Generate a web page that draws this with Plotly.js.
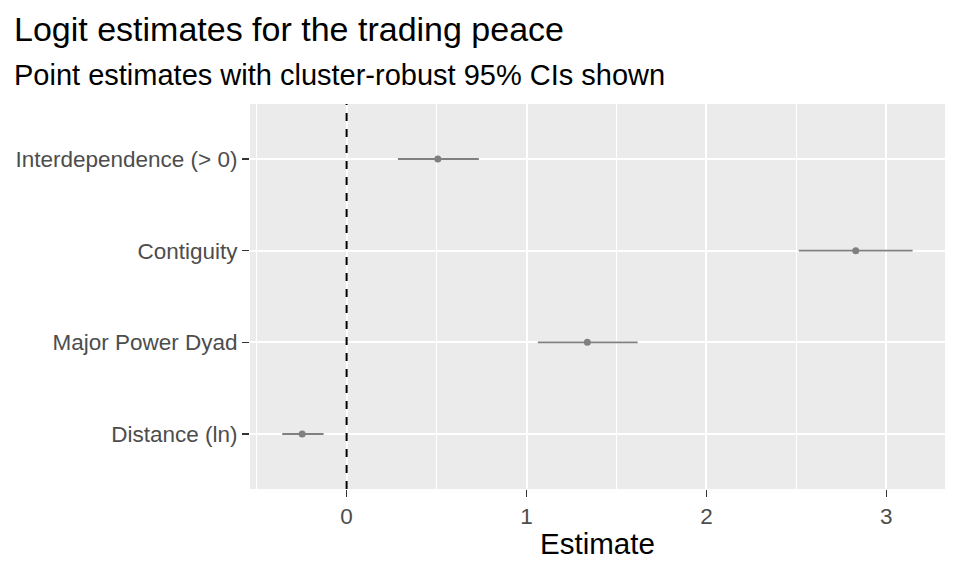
<!DOCTYPE html>
<html>
<head>
<meta charset="utf-8">
<script src="https://cdn.plot.ly/plotly-3.0.1.min.js"></script>
<style>html,body{margin:0;padding:0;background:#fff;}#chart{width:960px;height:576px;}</style>
</head>
<body>
<div id="chart"></div>
<script>
const terms = ["Interdependence (> 0)", "Contiguity", "Major Power Dyad", "Distance (ln)"];
const estimates = [0.507, 2.830, 1.338, -0.247];
const lower = [0.285, 2.513, 1.063, -0.358];
const upper = [0.735, 3.146, 1.618, -0.128];
const xTicks = [0, 1, 2, 3];
const xTickLabels = ["0", "1", "2", "3"];

const FONT = "Liberation Sans, Arial, Helvetica, sans-serif";

const trace = {
  type: "scatter",
  mode: "markers",
  x: estimates,
  y: terms,
  marker: {color: "#808080", size: 7},
  error_x: {
    type: "data",
    symmetric: false,
    array: upper.map((u, i) => u - estimates[i]),
    arrayminus: lower.map((l, i) => estimates[i] - l),
    color: "#808080",
    thickness: 1.8,
    width: 0
  },
  hoverinfo: "x+y",
  showlegend: false
};

const PH = 384.7, PW = 695;

const layout = {
  width: 960,
  height: 576,
  margin: {l: 250, r: 15, t: 104, b: 87},
  paper_bgcolor: "#ffffff",
  plot_bgcolor: "#ebebeb",
  font: {family: FONT, color: "#4d4d4d"},
  xaxis: {
    range: [-0.537, 3.326],
    tickvals: xTicks,
    ticktext: xTickLabels,
    ticks: "outside",
    ticklen: 7,
    tickwidth: 1.5,
    tickcolor: "#333333",
    tickfont: {size: 22.5, color: "#4d4d4d", family: FONT},
    showgrid: true,
    gridcolor: "#ffffff",
    gridwidth: 2,
    minor: {dtick: 0.5, tick0: 0, showgrid: true, gridcolor: "#ffffff", gridwidth: 1, ticks: ""},
    zeroline: false,
    showline: false,
    title: {text: "Estimate", font: {size: 29.5, color: "#000000", family: FONT}, standoff: 5}
  },
  yaxis: {
    type: "category",
    categoryorder: "array",
    categoryarray: terms,
    range: [3.6, -0.6],
    ticks: "outside",
    ticklen: 7,
    tickwidth: 1.5,
    tickcolor: "#333333",
    tickfont: {size: 22.5, color: "#4d4d4d", family: FONT},
    showgrid: true,
    gridcolor: "#ffffff",
    gridwidth: 2,
    zeroline: false,
    showline: false
  },
  shapes: [{
    type: "line",
    xref: "x", yref: "paper",
    x0: 0, x1: 0, y0: 0, y1: 1,
    line: {color: "#000000", width: 2, dash: "8px,8px"},
    layer: "above"
  }],
  annotations: [
    {
      text: "Logit estimates for the trading peace",
      xref: "paper", yref: "paper",
      x: (12 - 250) / PW, y: 1 + (104 - 50.2) / PH,
      xanchor: "left", yanchor: "bottom",
      showarrow: false,
      font: {size: 34, color: "#000000", family: FONT}
    },
    {
      text: "Point estimates with cluster-robust 95% CIs shown",
      xref: "paper", yref: "paper",
      x: (12 - 250) / PW, y: 1 + (104 - 93) / PH,
      xanchor: "left", yanchor: "bottom",
      showarrow: false,
      font: {size: 29, color: "#000000", family: FONT}
    }
  ]
};

Plotly.newPlot("chart", [trace], layout, {displayModeBar: false, staticPlot: true});
</script>
</body>
</html>
